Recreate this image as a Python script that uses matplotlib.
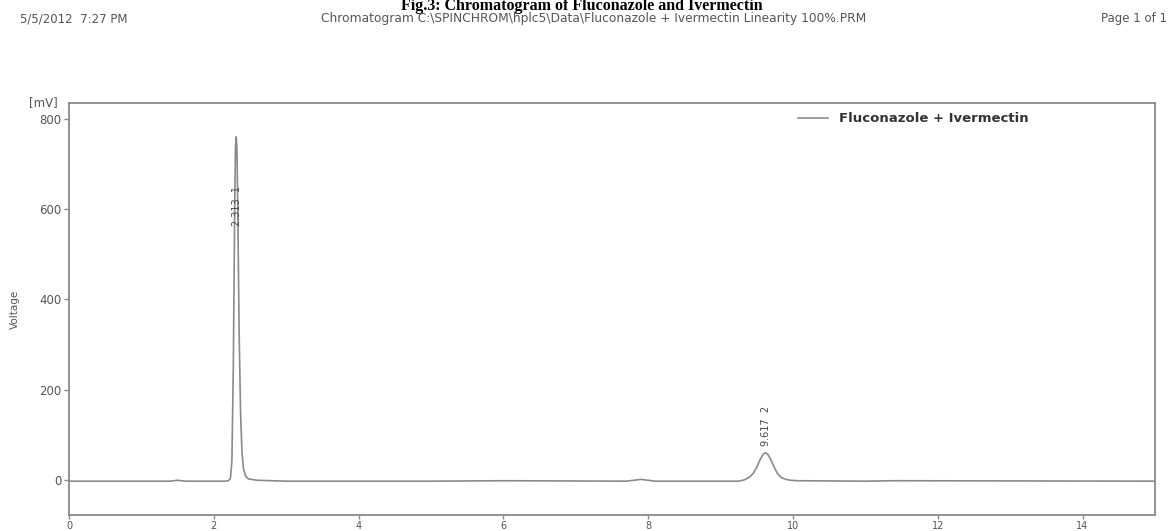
import matplotlib
matplotlib.use('Agg')
import matplotlib.pyplot as plt
import numpy as np

# retention time [min] / signal [mV]
time_min = [0.0, 1.40, 1.50, 1.60, 2.15, 2.20, 2.23, 2.25, 2.27, 2.29, 2.30, 2.31, 2.32, 2.33, 2.35,
            2.37, 2.39, 2.41, 2.44, 2.48, 2.60, 3.00, 5.00, 6.00, 7.70, 7.90, 8.10, 9.25, 9.33,
            9.40, 9.45, 9.50, 9.55, 9.59, 9.62, 9.65, 9.69, 9.74, 9.79, 9.84, 9.90, 9.97, 10.05,
            11.00, 11.40, 15.0]
voltage_mv = [-3, -3, -1, -3, -3, -2, 3, 40, 250, 620, 740, 760, 735, 620, 330,
              150, 60, 25, 8, 2, -1, -3, -3, -2, -3, 1, -3, -3, 0,
              6, 14, 28, 46, 57, 60, 57, 46, 28, 13, 5, 1, -1, -2,
              -3, -2, -3]

peak_rt = [2.313, 9.617]
peak_num = [1, 2]
peak_label_y = [607, 120]

series_name = 'Fluconazole + Ivermectin'
xticks = [0, 2, 4, 6, 8, 10, 12, 14]
yticks = [0, 200, 400, 600, 800]

grey = '#8a8a8a'
txt = '#555555'

fig = plt.figure(figsize=(11.71, 5.31), dpi=100)
ax = fig.add_axes([0.0589, 0.0301, 0.9274, 0.7759])

ax.plot(time_min, voltage_mv, color=grey, lw=1.2, label=series_name)

for rt, n, yl in zip(peak_rt, peak_num, peak_label_y):
    ax.text(rt + 0.01, yl, '%.3f  %d' % (rt, n), rotation=90, ha='center', va='center',
            fontsize=7, color='#444444')

ax.set_xlim(0, 15)
ax.set_ylim(-78, 835)
ax.set_xticks(xticks)
ax.set_yticks(yticks)
ax.tick_params(direction='out', length=3.5, width=1, color=grey, labelcolor=txt, labelsize=8.5, pad=2)
ax.tick_params(axis='x', length=3, labelsize=7, pad=1)
for s in ax.spines.values():
    s.set_color(grey)
    s.set_linewidth(1.3)

ax.set_ylabel('Voltage', fontsize=7.5, color=txt, labelpad=14)
ax.text(-0.01, 1.0, '[mV]', transform=ax.transAxes, ha='right', va='center', fontsize=8.5, color=txt)

leg = ax.legend(loc='upper left', bbox_to_anchor=(0.66, 1.006), frameon=False,
                handlelength=2.3, handletextpad=0.8, prop={'weight': 'bold', 'size': 9.5})
for t in leg.get_texts():
    t.set_color('#333333')

# page header
fig.text(0.497, 0.981, 'Fig.3: Chromatogram of Fluconazole and Ivermectin', ha='center', va='baseline',
         family='Liberation Serif', weight='bold', fontsize=11.5)
fig.text(0.017, 0.965, '5/5/2012  7:27 PM', ha='left', va='center', fontsize=8.5, color=txt)
fig.text(0.507, 0.965, 'Chromatogram C:\\SPINCHROM\\hplc5\\Data\\Fluconazole + Ivermectin Linearity 100%.PRM',
         ha='center', va='center', fontsize=8.8, color=txt)
fig.text(0.997, 0.965, 'Page 1 of 1', ha='right', va='center', fontsize=8.5, color=txt)

fig.savefig('out.png', dpi=100)
